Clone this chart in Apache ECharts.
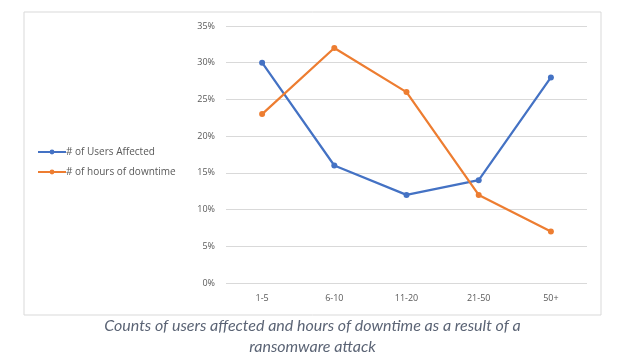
<!DOCTYPE html>
<html>
<head>
<meta charset="utf-8">
<script src="https://cdn.jsdelivr.net/npm/echarts@6/dist/echarts.min.js"></script>
<style>
html,body{margin:0;padding:0;background:#fff;}
#main{width:625px;height:360px;}
</style>
</head>
<body>
<div id="main"></div>
<script>
const categories = ['1-5', '6-10', '11-20', '21-50', '50+'];
const usersAffected = [30, 16, 12, 14, 28];
const hoursDowntime = [23, 32, 26, 12, 7];
const seriesNames = ['# of Users Affected', '# of hours of downtime'];
const captionLines = ['Counts of users affected and hours of downtime as a result of a', 'ransomware attack'];

const chart = echarts.init(document.getElementById('main'));
chart.setOption({
  animation: false,
  backgroundColor: '#ffffff',
  color: ['#4472c4', '#ed7d31'],
  graphic: [
    {
      type: 'rect',
      shape: { x: 24, y: 12, width: 577, height: 303 },
      style: { fill: 'none', stroke: '#d9d9d9', lineWidth: 1 },
      silent: true
    },
    {
      type: 'text',
      left: 'center',
      top: 315,
      style: {
        text: captionLines.join('\n'),
        font: 'italic 16px Lato, sans-serif',
        fill: '#5b6475',
        textAlign: 'center',
        lineHeight: 21
      },
      silent: true
    }
  ],
  legend: {
    orient: 'vertical',
    left: 37,
    top: 147,
    padding: 0,
    itemWidth: 28,
    itemHeight: 6,
    itemGap: 10,
    textStyle: { color: '#595959', fontSize: 10, fontFamily: '"Open Sans", sans-serif', padding: [0, 0, 0, -5] },
    data: seriesNames
  },
  grid: { left: 226, right: 38, top: 26, bottom: 77, containLabel: false },
  xAxis: {
    type: 'category',
    data: categories,
    boundaryGap: true,
    axisLine: { show: false },
    axisTick: { show: false },
    axisLabel: { color: '#595959', fontSize: 9, margin: 11, fontFamily: '"Open Sans", sans-serif' }
  },
  yAxis: {
    type: 'value',
    min: 0,
    max: 35,
    interval: 5,
    axisLine: { show: false },
    axisTick: { show: false },
    axisLabel: { color: '#595959', fontSize: 9, margin: 11, formatter: '{value}%', fontFamily: '"Open Sans", sans-serif' },
    splitLine: { lineStyle: { color: '#d9d9d9', width: 1 } }
  },
  series: [
    {
      name: seriesNames[0],
      type: 'line',
      data: usersAffected,
      symbol: 'circle',
      symbolSize: 6,
      lineStyle: { width: 2.25 },
      itemStyle: { color: '#4472c4' }
    },
    {
      name: seriesNames[1],
      type: 'line',
      data: hoursDowntime,
      symbol: 'circle',
      symbolSize: 6,
      lineStyle: { width: 2.25 },
      itemStyle: { color: '#ed7d31' }
    }
  ]
});
</script>
</body>
</html>
